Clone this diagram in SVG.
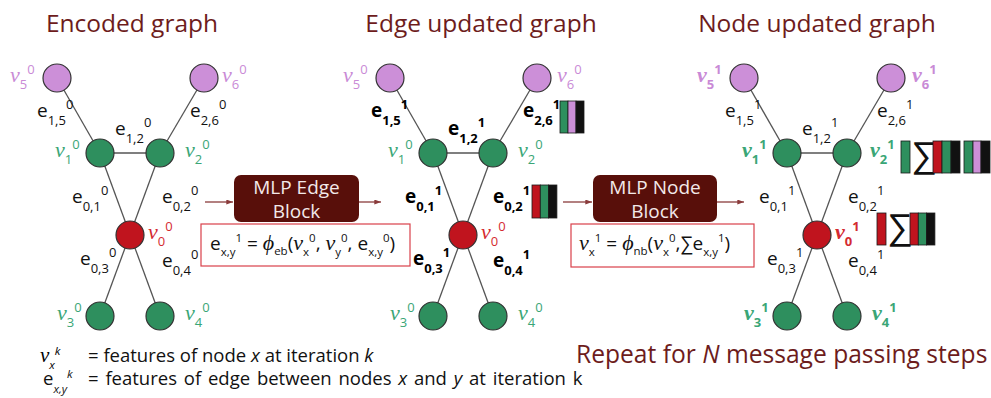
<svg xmlns="http://www.w3.org/2000/svg" width="991" height="398" viewBox="0 0 991 398">
  <style>
    .title { font-family: "Open Sans", "Liberation Sans", sans-serif; font-size: 24.5px; fill: #6d1c1c; text-anchor: middle; }
    .repeat { font-family: "Open Sans", "Liberation Sans", sans-serif; font-size: 24.6px; fill: #6d1c1c; }
    .edge { stroke: #555; stroke-width: 1.3; fill: none; }
    .node { stroke: #333; stroke-width: 1.2; }
    .green { fill: #2e8f5e; }
    .pink { fill: #cc8fd8; }
    .red { fill: #c0141e; }
    .el { font-family: "Open Sans", "Liberation Sans", sans-serif; font-size: 19px; fill: #111; }
    .elb { font-family: "Open Sans", "Liberation Sans", sans-serif; font-size: 19px; fill: #000; font-weight: bold; }
    .sm { font-size: 13px; }
    .nu { font-family: "Liberation Serif", "DejaVu Serif", serif; font-style: italic; font-size: 22px; }
    .nus { font-family: "Open Sans", "Liberation Sans", sans-serif; font-style: normal; font-size: 13px; }
    .lg { fill: #3aa676; }
    .lp { fill: #c98ad6; }
    .lr { fill: #d42a30; }
    .bold { font-weight: bold; }
    .block { fill: #580f0a; }
    .btxt { font-family: "Open Sans", "Liberation Sans", sans-serif; font-size: 19px; fill: #f3e9e9; text-anchor: middle; }
    .fbox { fill: #fff; stroke: #d9404a; stroke-width: 1.2; }
    .f { font-family: "Open Sans", "Liberation Sans", sans-serif; font-size: 19px; fill: #111; }
    .fs { font-size: 11.5px; }
    .fi { font-family: "Liberation Serif", "DejaVu Serif", serif; font-style: italic; font-size: 22px; }
    .arrow { stroke: #8a3b3b; stroke-width: 1.3; fill: none; marker-end: url(#ah); }
    .bar { stroke: #1a1a1a; stroke-width: 0.8; }
    .sigma { font-family: "Liberation Sans", "DejaVu Sans", sans-serif; font-size: 36px; fill: #111; }
    .leg { font-family: "Open Sans", "Liberation Sans", sans-serif; font-size: 18.5px; fill: #111; }
    .legs { font-family: "Open Sans", "Liberation Sans", sans-serif; font-size: 11.5px; font-style: italic; }
  </style>
  <defs>
    <marker id="ah" viewBox="0 0 8 6" refX="8" refY="3" markerWidth="7" markerHeight="5" orient="auto" markerUnits="userSpaceOnUse">
      <path d="M0,0 L8,3 L0,6 z" fill="#8a3b3b"/>
    </marker>
    <!-- shared graph skeleton: edges then nodes -->
    <g id="skeleton">
      <g class="connectors">
        <line class="edge" x1="57" y1="78" x2="100" y2="153"/>
        <line class="edge" x1="204" y1="78" x2="160" y2="153"/>
        <line class="edge" x1="100" y1="153" x2="160" y2="153"/>
        <line class="edge" x1="100" y1="153" x2="160" y2="316"/>
        <line class="edge" x1="160" y1="153" x2="100" y2="316"/>
      </g>
      <circle class="node pink" cx="57" cy="78" r="14"/>
      <circle class="node pink" cx="204" cy="78" r="14"/>
      <circle class="node green" cx="100" cy="153" r="14"/>
      <circle class="node green" cx="160" cy="153" r="14"/>
      <circle class="node red" cx="130" cy="235" r="14"/>
      <circle class="node green" cx="100" cy="316" r="14"/>
      <circle class="node green" cx="160" cy="316" r="14"/>
    </g>
  </defs>

  <!-- titles -->
  <text class="title" x="132" y="32">Encoded graph</text>
  <text class="title" x="481" y="32">Edge updated graph</text>
  <text class="title" x="817" y="32">Node updated graph</text>

  <!-- encoded graph -->
  <g id="graph-encoded">
    <use href="#skeleton"/>
    <text class="nu lp" x="10" y="82">ν<tspan class="nus" dy="7">5</tspan><tspan class="nus" dy="-15">0</tspan></text>
    <text class="nu lp" x="222" y="82">ν<tspan class="nus" dy="7">6</tspan><tspan class="nus" dy="-15">0</tspan></text>
    <text class="nu lg" x="55" y="157">ν<tspan class="nus" dy="7">1</tspan><tspan class="nus" dy="-15">0</tspan></text>
    <text class="nu lg" x="185" y="157">ν<tspan class="nus" dy="7">2</tspan><tspan class="nus" dy="-15">0</tspan></text>
    <text class="nu lr" x="148" y="239">ν<tspan class="nus" dy="7">0</tspan><tspan class="nus" dy="-15">0</tspan></text>
    <text class="nu lg" x="57" y="320">ν<tspan class="nus" dy="7">3</tspan><tspan class="nus" dy="-15">0</tspan></text>
    <text class="nu lg" x="185" y="320">ν<tspan class="nus" dy="7">4</tspan><tspan class="nus" dy="-15">0</tspan></text>
    <text class="el" x="37" y="117">e<tspan class="sm" dy="8">1,5</tspan><tspan class="sm" dy="-16">0</tspan></text>
    <text class="el" x="115" y="135">e<tspan class="sm" dy="8">1,2</tspan><tspan class="sm" dy="-16">0</tspan></text>
    <text class="el" x="190" y="117">e<tspan class="sm" dy="8">2,6</tspan><tspan class="sm" dy="-16">0</tspan></text>
    <text class="el" x="72" y="203">e<tspan class="sm" dy="8">0,1</tspan><tspan class="sm" dy="-16">0</tspan></text>
    <text class="el" x="162" y="203">e<tspan class="sm" dy="8">0,2</tspan><tspan class="sm" dy="-16">0</tspan></text>
    <text class="el" x="80" y="265">e<tspan class="sm" dy="8">0,3</tspan><tspan class="sm" dy="-16">0</tspan></text>
    <text class="el" x="162" y="267">e<tspan class="sm" dy="8">0,4</tspan><tspan class="sm" dy="-16">0</tspan></text>
  </g>

  <!-- edge updated graph -->
  <g id="graph-edge-updated" transform="translate(333,0)">
    <use href="#skeleton"/>
    <text class="nu lp" x="10" y="82">ν<tspan class="nus" dy="7">5</tspan><tspan class="nus" dy="-15">0</tspan></text>
    <text class="nu lp" x="224" y="82">ν<tspan class="nus" dy="7">6</tspan><tspan class="nus" dy="-15">0</tspan></text>
    <text class="nu lg" x="55" y="157">ν<tspan class="nus" dy="7">1</tspan><tspan class="nus" dy="-15">0</tspan></text>
    <text class="nu lg" x="185" y="157">ν<tspan class="nus" dy="7">2</tspan><tspan class="nus" dy="-15">0</tspan></text>
    <text class="nu lr" x="148" y="239">ν<tspan class="nus" dy="7">0</tspan><tspan class="nus" dy="-15">0</tspan></text>
    <text class="nu lg" x="57" y="320">ν<tspan class="nus" dy="7">3</tspan><tspan class="nus" dy="-15">0</tspan></text>
    <text class="nu lg" x="185" y="320">ν<tspan class="nus" dy="7">4</tspan><tspan class="nus" dy="-15">0</tspan></text>
    <text class="elb" x="38" y="117">e<tspan class="sm" dy="8">1,5</tspan><tspan class="sm" dy="-16">1</tspan></text>
    <text class="elb" x="115" y="135">e<tspan class="sm" dy="8">1,2</tspan><tspan class="sm" dy="-16">1</tspan></text>
    <text class="elb" x="190" y="117">e<tspan class="sm" dy="8">2,6</tspan><tspan class="sm" dy="-16">1</tspan></text>
    <text class="elb" x="72" y="203">e<tspan class="sm" dy="8">0,1</tspan><tspan class="sm" dy="-16">1</tspan></text>
    <text class="elb" x="160" y="203">e<tspan class="sm" dy="8">0,2</tspan><tspan class="sm" dy="-16">1</tspan></text>
    <text class="elb" x="80" y="265">e<tspan class="sm" dy="8">0,3</tspan><tspan class="sm" dy="-16">1</tspan></text>
    <text class="elb" x="160" y="267">e<tspan class="sm" dy="8">0,4</tspan><tspan class="sm" dy="-16">1</tspan></text>
  </g>

  <!-- node updated graph -->
  <g id="graph-node-updated" transform="translate(687,0)">
    <use href="#skeleton"/>
    <text class="nu lp bold" x="10" y="82">ν<tspan class="nus" dy="7">5</tspan><tspan class="nus" dy="-15">1</tspan></text>
    <text class="nu lp bold" x="225" y="82">ν<tspan class="nus" dy="7">6</tspan><tspan class="nus" dy="-15">1</tspan></text>
    <text class="nu lg bold" x="55" y="157">ν<tspan class="nus" dy="7">1</tspan><tspan class="nus" dy="-15">1</tspan></text>
    <text class="nu lg bold" x="183" y="157">ν<tspan class="nus" dy="7">2</tspan><tspan class="nus" dy="-15">1</tspan></text>
    <text class="nu lr bold" x="148" y="239">ν<tspan class="nus" dy="7">0</tspan><tspan class="nus" dy="-15">1</tspan></text>
    <text class="nu lg bold" x="57" y="320">ν<tspan class="nus" dy="7">3</tspan><tspan class="nus" dy="-15">1</tspan></text>
    <text class="nu lg bold" x="185" y="320">ν<tspan class="nus" dy="7">4</tspan><tspan class="nus" dy="-15">1</tspan></text>
    <text class="el" x="38" y="117">e<tspan class="sm" dy="8">1,5</tspan><tspan class="sm" dy="-16">1</tspan></text>
    <text class="el" x="115" y="135">e<tspan class="sm" dy="8">1,2</tspan><tspan class="sm" dy="-16">1</tspan></text>
    <text class="el" x="190" y="117">e<tspan class="sm" dy="8">2,6</tspan><tspan class="sm" dy="-16">1</tspan></text>
    <text class="el" x="72" y="203">e<tspan class="sm" dy="8">0,1</tspan><tspan class="sm" dy="-16">1</tspan></text>
    <text class="el" x="161" y="203">e<tspan class="sm" dy="8">0,2</tspan><tspan class="sm" dy="-16">1</tspan></text>
    <text class="el" x="80" y="265">e<tspan class="sm" dy="8">0,3</tspan><tspan class="sm" dy="-16">1</tspan></text>
    <text class="el" x="161" y="267">e<tspan class="sm" dy="8">0,4</tspan><tspan class="sm" dy="-16">1</tspan></text>
  </g>

  <!-- feature vectors -->
  <g id="vec-e26">
    <rect class="bar green" x="560" y="101" width="8" height="32"/>
    <rect class="bar pink" x="568" y="101" width="8" height="32"/>
    <rect class="bar" x="576" y="101" width="8" height="32" fill="#111"/>
  </g>
  <g id="vec-e02">
    <rect class="bar red" x="532" y="185" width="8.3" height="33"/>
    <rect class="bar green" x="540.3" y="185" width="8.3" height="33"/>
    <rect class="bar" x="548.6" y="185" width="8.3" height="33" fill="#111"/>
  </g>
  <g id="vec-v2">
    <rect class="bar green" x="901" y="141" width="9" height="32"/>
    <text class="sigma" x="911" y="167">∑</text>
    <rect class="bar red" x="933" y="141" width="9" height="32"/>
    <rect class="bar green" x="942" y="141" width="9" height="32"/>
    <rect class="bar" x="951" y="141" width="9" height="32" fill="#111"/>
    <rect class="bar green" x="964" y="141" width="9" height="32"/>
    <rect class="bar pink" x="973" y="141" width="8" height="32"/>
    <rect class="bar" x="981" y="141" width="9" height="32" fill="#111"/>
  </g>
  <g id="vec-v0">
    <rect class="bar red" x="877" y="213" width="9" height="32"/>
    <text class="sigma" x="887" y="239">∑</text>
    <rect class="bar red" x="910" y="213" width="8.3" height="32"/>
    <rect class="bar green" x="918.3" y="213" width="8.3" height="32"/>
    <rect class="bar" x="926.6" y="213" width="8.3" height="32" fill="#111"/>
  </g>

  <!-- MLP edge block -->
  <g id="mlp-edge">
    <line class="arrow" x1="205" y1="202" x2="233" y2="202"/>
    <line class="arrow" x1="359" y1="202" x2="381" y2="202"/>
    <rect class="block" x="234" y="175" width="125" height="47" rx="7"/>
    <text class="btxt" x="296.5" y="194">MLP Edge</text>
    <text class="btxt" x="296.5" y="218">Block</text>
    <rect class="fbox" x="201" y="224" width="209" height="42"/>
    <text class="f" x="210" y="250">e<tspan class="fs" dy="6">x,y</tspan><tspan class="fs" dy="-14">1</tspan><tspan dy="8"> = </tspan><tspan class="fi">ϕ</tspan><tspan class="fs" dy="5">eb</tspan><tspan dy="-5">(</tspan><tspan class="fi">ν</tspan><tspan class="fs" dy="6">x</tspan><tspan class="fs" dy="-14">0</tspan><tspan dy="8">, </tspan><tspan class="fi">ν</tspan><tspan class="fs" dy="6">y</tspan><tspan class="fs" dy="-14">0</tspan><tspan dy="8">, e</tspan><tspan class="fs" dy="6">x,y</tspan><tspan class="fs" dy="-14">0</tspan><tspan dy="8">)</tspan></text>
  </g>

  <!-- MLP node block -->
  <g id="mlp-node">
    <line class="arrow" x1="563" y1="202" x2="592" y2="202"/>
    <line class="arrow" x1="717" y1="202" x2="744" y2="202"/>
    <rect class="block" x="593" y="175" width="124" height="47" rx="7"/>
    <text class="btxt" x="655" y="194">MLP Node</text>
    <text class="btxt" x="655" y="218">Block</text>
    <rect class="fbox" x="571" y="224" width="183" height="43"/>
    <text class="f" x="579" y="250"><tspan class="fi">ν</tspan><tspan class="fs" dy="6">x</tspan><tspan class="fs" dy="-14">1</tspan><tspan dy="8"> = </tspan><tspan class="fi">ϕ</tspan><tspan class="fs" dy="5">nb</tspan><tspan dy="-5">(</tspan><tspan class="fi">ν</tspan><tspan class="fs" dy="6">x</tspan><tspan class="fs" dy="-14">0</tspan><tspan dy="8">,∑e</tspan><tspan class="fs" dy="6">x,y</tspan><tspan class="fs" dy="-14">1</tspan><tspan dy="8">)</tspan></text>
  </g>

  <!-- legend -->
  <g id="legend">
    <text class="fi" x="40" y="362" style="font-size:21px">ν<tspan class="legs" dy="7">x</tspan><tspan class="legs" dy="-14">k</tspan></text>
    <text class="leg" x="88" y="362">= features of node <tspan font-style="italic">x</tspan> at iteration <tspan font-style="italic">k</tspan></text>
    <text class="leg" x="43" y="385">e<tspan class="legs" dy="8">x,y</tspan><tspan class="legs" dy="-15">k</tspan></text>
    <text class="leg" x="88" y="385" word-spacing="2">= features of edge between nodes <tspan font-style="italic">x</tspan> and <tspan font-style="italic">y</tspan> at iteration k</text>
  </g>

  <text class="repeat" x="576" y="363">Repeat for <tspan font-style="italic">N</tspan> message passing steps</text>
</svg>
